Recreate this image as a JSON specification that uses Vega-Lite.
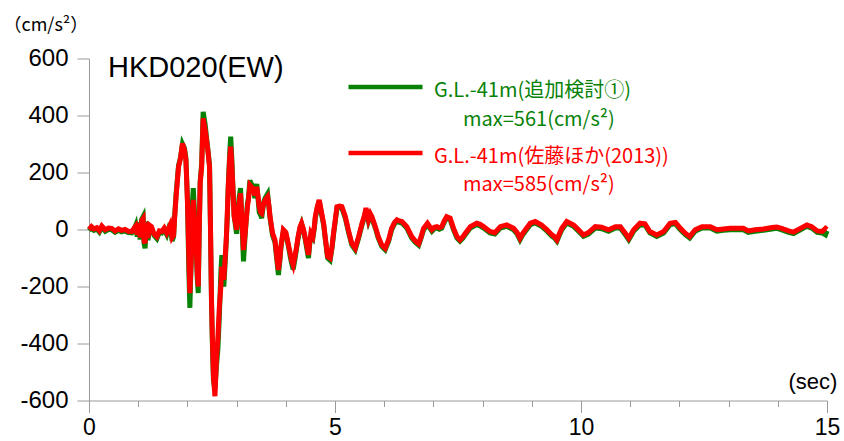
{
  "$schema": "https://vega.github.io/schema/vega-lite/v6.json",
  "width": 738,
  "height": 342,
  "autosize": {"type": "none"},
  "padding": {"left": 89, "top": 58.5, "right": 17, "bottom": 40.5},
  "background": "white",
  "config": {"view": {"stroke": null}, "font": "Liberation Sans"},
  "title": {
    "text": "HKD020(EW)",
    "anchor": "start",
    "frame": "group",
    "font": "Liberation Sans",
    "fontSize": 29,
    "fontWeight": "normal",
    "color": "#000000",
    "baseline": "alphabetic",
    "offset": 0,
    "dx": 19,
    "dy": 89
  },
  "data": {
    "values": [
      {"t": 0.00, "r": 0, "g": -4},
      {"t": 0.05, "r": 10, "g": 6},
      {"t": 0.10, "r": 2, "g": -3},
      {"t": 0.16, "r": 6, "g": 1},
      {"t": 0.21, "r": -4, "g": -9},
      {"t": 0.26, "r": 12, "g": 8},
      {"t": 0.33, "r": -1, "g": -6},
      {"t": 0.40, "r": 5, "g": 1},
      {"t": 0.46, "r": 4, "g": -1},
      {"t": 0.53, "r": -5, "g": -10},
      {"t": 0.60, "r": 2, "g": -3},
      {"t": 0.66, "r": -3, "g": -8},
      {"t": 0.73, "r": 0, "g": -5},
      {"t": 0.80, "r": -6, "g": -11},
      {"t": 0.87, "r": -7, "g": -12},
      {"t": 0.92, "r": 5, "g": 2},
      {"t": 0.95, "r": 12, "g": 15},
      {"t": 0.98, "r": -18, "g": -25},
      {"t": 1.01, "r": 22, "g": 26},
      {"t": 1.04, "r": -28, "g": -35},
      {"t": 1.07, "r": 30, "g": 35},
      {"t": 1.10, "r": 38, "g": 45},
      {"t": 1.12, "r": -40, "g": -50},
      {"t": 1.14, "r": -48, "g": -66},
      {"t": 1.17, "r": 25, "g": 28},
      {"t": 1.20, "r": -30, "g": -38},
      {"t": 1.23, "r": 15, "g": 12},
      {"t": 1.27, "r": 10, "g": 5},
      {"t": 1.32, "r": -15, "g": -20},
      {"t": 1.38, "r": -25, "g": -32},
      {"t": 1.43, "r": -5, "g": -10},
      {"t": 1.48, "r": -7, "g": -12},
      {"t": 1.53, "r": 5, "g": 0},
      {"t": 1.58, "r": -12, "g": -18},
      {"t": 1.65, "r": 16, "g": 22},
      {"t": 1.69, "r": -28, "g": -40},
      {"t": 1.72, "r": -20, "g": -25},
      {"t": 1.74, "r": 40, "g": 45},
      {"t": 1.77, "r": 115, "g": 125},
      {"t": 1.82, "r": 220, "g": 225},
      {"t": 1.86, "r": 250, "g": 252},
      {"t": 1.90, "r": 302, "g": 300},
      {"t": 1.94, "r": 280, "g": 285},
      {"t": 1.97, "r": 244, "g": 250},
      {"t": 2.00, "r": 104, "g": 110},
      {"t": 2.03, "r": -100, "g": -150},
      {"t": 2.05, "r": -223, "g": -275},
      {"t": 2.08, "r": -100, "g": -90},
      {"t": 2.10, "r": 60, "g": 90},
      {"t": 2.12, "r": 104, "g": 145},
      {"t": 2.15, "r": 20, "g": 40},
      {"t": 2.18, "r": -60, "g": -70},
      {"t": 2.20, "r": -150, "g": -170},
      {"t": 2.22, "r": -200, "g": -223},
      {"t": 2.24, "r": 0, "g": -10},
      {"t": 2.26, "r": 162, "g": 170},
      {"t": 2.29, "r": 220, "g": 230},
      {"t": 2.32, "r": 390, "g": 413},
      {"t": 2.36, "r": 350, "g": 370},
      {"t": 2.39, "r": 314, "g": 320},
      {"t": 2.42, "r": 270, "g": 275},
      {"t": 2.45, "r": 220, "g": 225},
      {"t": 2.47, "r": 0, "g": -10},
      {"t": 2.49, "r": -247, "g": -260},
      {"t": 2.51, "r": -400, "g": -420},
      {"t": 2.53, "r": -516, "g": -530},
      {"t": 2.56, "r": -585, "g": -561},
      {"t": 2.59, "r": -457, "g": -480},
      {"t": 2.62, "r": -380, "g": -420},
      {"t": 2.65, "r": -270, "g": -300},
      {"t": 2.68, "r": -200, "g": -150},
      {"t": 2.70, "r": -130, "g": -90},
      {"t": 2.72, "r": -160, "g": -150},
      {"t": 2.74, "r": -177, "g": -200},
      {"t": 2.77, "r": -90, "g": -110},
      {"t": 2.79, "r": -36, "g": -40},
      {"t": 2.81, "r": 50, "g": 40},
      {"t": 2.83, "r": 150, "g": 150},
      {"t": 2.86, "r": 250, "g": 270},
      {"t": 2.88, "r": 291, "g": 326},
      {"t": 2.90, "r": 240, "g": 260},
      {"t": 2.92, "r": 162, "g": 170},
      {"t": 2.95, "r": 45, "g": 50},
      {"t": 2.98, "r": 20, "g": 10},
      {"t": 3.00, "r": -1, "g": -15},
      {"t": 3.03, "r": 60, "g": 70},
      {"t": 3.05, "r": 92, "g": 110},
      {"t": 3.08, "r": 127, "g": 145},
      {"t": 3.11, "r": 30, "g": 20},
      {"t": 3.14, "r": -72, "g": -112},
      {"t": 3.17, "r": -20, "g": -30},
      {"t": 3.19, "r": 22, "g": 20},
      {"t": 3.22, "r": 80, "g": 90},
      {"t": 3.24, "r": 104, "g": 110},
      {"t": 3.27, "r": 156, "g": 172},
      {"t": 3.30, "r": 150, "g": 160},
      {"t": 3.34, "r": 139, "g": 150},
      {"t": 3.37, "r": 120, "g": 110},
      {"t": 3.41, "r": 150, "g": 160},
      {"t": 3.44, "r": 110, "g": 100},
      {"t": 3.46, "r": 80, "g": 60},
      {"t": 3.49, "r": 60, "g": 50},
      {"t": 3.51, "r": 57, "g": 40},
      {"t": 3.55, "r": 90, "g": 95},
      {"t": 3.58, "r": 104, "g": 110},
      {"t": 3.63, "r": 115, "g": 125},
      {"t": 3.66, "r": 80, "g": 75},
      {"t": 3.68, "r": 45, "g": 40},
      {"t": 3.73, "r": -13, "g": -20},
      {"t": 3.78, "r": -36, "g": -45},
      {"t": 3.82, "r": -100, "g": -110},
      {"t": 3.85, "r": -142, "g": -160},
      {"t": 3.88, "r": -100, "g": -110},
      {"t": 3.90, "r": -60, "g": -65},
      {"t": 3.95, "r": -1, "g": -5},
      {"t": 4.00, "r": -10, "g": -15},
      {"t": 4.02, "r": -25, "g": -30},
      {"t": 4.06, "r": -60, "g": -65},
      {"t": 4.09, "r": -83, "g": -95},
      {"t": 4.12, "r": -110, "g": -120},
      {"t": 4.15, "r": -125, "g": -140},
      {"t": 4.19, "r": -90, "g": -100},
      {"t": 4.22, "r": -60, "g": -65},
      {"t": 4.25, "r": -25, "g": -30},
      {"t": 4.29, "r": 10, "g": 5},
      {"t": 4.32, "r": 22, "g": 20},
      {"t": 4.36, "r": 0, "g": -5},
      {"t": 4.39, "r": -25, "g": -30},
      {"t": 4.43, "r": -60, "g": -70},
      {"t": 4.46, "r": -89, "g": -100},
      {"t": 4.49, "r": -40, "g": -45},
      {"t": 4.51, "r": -13, "g": -20},
      {"t": 4.55, "r": -25, "g": -30},
      {"t": 4.58, "r": 10, "g": 5},
      {"t": 4.60, "r": 45, "g": 40},
      {"t": 4.64, "r": 80, "g": 75},
      {"t": 4.68, "r": 104, "g": 100},
      {"t": 4.73, "r": 57, "g": 50},
      {"t": 4.77, "r": 20, "g": 15},
      {"t": 4.80, "r": -25, "g": -30},
      {"t": 4.85, "r": -95, "g": -100},
      {"t": 4.90, "r": -101, "g": -108},
      {"t": 4.94, "r": -60, "g": -65},
      {"t": 4.97, "r": -13, "g": -18},
      {"t": 5.01, "r": 40, "g": 35},
      {"t": 5.04, "r": 80, "g": 75},
      {"t": 5.09, "r": 82, "g": 77},
      {"t": 5.14, "r": 80, "g": 75},
      {"t": 5.18, "r": 60, "g": 55},
      {"t": 5.21, "r": 45, "g": 40},
      {"t": 5.27, "r": -1, "g": -6},
      {"t": 5.34, "r": -48, "g": -53},
      {"t": 5.41, "r": -66, "g": -71},
      {"t": 5.48, "r": -25, "g": -30},
      {"t": 5.55, "r": 22, "g": 17},
      {"t": 5.60, "r": 50, "g": 45},
      {"t": 5.63, "r": 75, "g": 70},
      {"t": 5.68, "r": 34, "g": 29},
      {"t": 5.72, "r": 55, "g": 50},
      {"t": 5.75, "r": 45, "g": 40},
      {"t": 5.82, "r": 10, "g": 5},
      {"t": 5.88, "r": -25, "g": -30},
      {"t": 5.95, "r": -54, "g": -59},
      {"t": 6.02, "r": -66, "g": -71},
      {"t": 6.09, "r": -36, "g": -41},
      {"t": 6.15, "r": 4, "g": -1},
      {"t": 6.21, "r": 25, "g": 20},
      {"t": 6.26, "r": 34, "g": 29},
      {"t": 6.31, "r": 30, "g": 25},
      {"t": 6.36, "r": 28, "g": 23},
      {"t": 6.46, "r": 10, "g": 5},
      {"t": 6.56, "r": -25, "g": -30},
      {"t": 6.63, "r": -40, "g": -45},
      {"t": 6.70, "r": -50, "g": -55},
      {"t": 6.75, "r": -25, "g": -30},
      {"t": 6.80, "r": 4, "g": -1},
      {"t": 6.88, "r": 22, "g": 17},
      {"t": 6.97, "r": -1, "g": -6},
      {"t": 7.02, "r": 8, "g": 3},
      {"t": 7.07, "r": 10, "g": 5},
      {"t": 7.12, "r": 6, "g": 1},
      {"t": 7.17, "r": 10, "g": 5},
      {"t": 7.22, "r": 30, "g": 25},
      {"t": 7.27, "r": 45, "g": 40},
      {"t": 7.34, "r": 40, "g": 35},
      {"t": 7.41, "r": 4, "g": -1},
      {"t": 7.48, "r": -25, "g": -30},
      {"t": 7.54, "r": -36, "g": -41},
      {"t": 7.60, "r": -25, "g": -30},
      {"t": 7.65, "r": -13, "g": -18},
      {"t": 7.75, "r": 10, "g": 5},
      {"t": 7.88, "r": 22, "g": 17},
      {"t": 7.95, "r": 18, "g": 13},
      {"t": 8.02, "r": 10, "g": 5},
      {"t": 8.15, "r": -7, "g": -12},
      {"t": 8.25, "r": -11, "g": -16},
      {"t": 8.36, "r": 10, "g": 5},
      {"t": 8.49, "r": 16, "g": 11},
      {"t": 8.63, "r": 4, "g": -1},
      {"t": 8.70, "r": -10, "g": -15},
      {"t": 8.76, "r": -31, "g": -36},
      {"t": 8.81, "r": -15, "g": -20},
      {"t": 8.87, "r": -1, "g": -6},
      {"t": 8.97, "r": 22, "g": 17},
      {"t": 9.07, "r": 28, "g": 23},
      {"t": 9.20, "r": 16, "g": 11},
      {"t": 9.31, "r": -1, "g": -6},
      {"t": 9.41, "r": -19, "g": -24},
      {"t": 9.46, "r": -25, "g": -30},
      {"t": 9.51, "r": -36, "g": -41},
      {"t": 9.56, "r": -15, "g": -20},
      {"t": 9.61, "r": 4, "g": -1},
      {"t": 9.71, "r": 28, "g": 23},
      {"t": 9.85, "r": 16, "g": 11},
      {"t": 9.95, "r": -1, "g": -6},
      {"t": 10.05, "r": -19, "g": -24},
      {"t": 10.15, "r": -11, "g": -16},
      {"t": 10.29, "r": 10, "g": 5},
      {"t": 10.42, "r": 8, "g": 3},
      {"t": 10.56, "r": -1, "g": -6},
      {"t": 10.70, "r": 10, "g": 5},
      {"t": 10.80, "r": 10, "g": 5},
      {"t": 10.90, "r": -13, "g": -18},
      {"t": 10.97, "r": -31, "g": -36},
      {"t": 11.07, "r": -1, "g": -6},
      {"t": 11.20, "r": 22, "g": 17},
      {"t": 11.30, "r": 20, "g": 15},
      {"t": 11.40, "r": -7, "g": -12},
      {"t": 11.54, "r": -19, "g": -24},
      {"t": 11.68, "r": -7, "g": -12},
      {"t": 11.81, "r": 22, "g": 17},
      {"t": 11.92, "r": 25, "g": 20},
      {"t": 12.02, "r": 4, "g": -1},
      {"t": 12.12, "r": -13, "g": -18},
      {"t": 12.21, "r": -25, "g": -30},
      {"t": 12.32, "r": -1, "g": -6},
      {"t": 12.46, "r": 10, "g": 5},
      {"t": 12.63, "r": 10, "g": 5},
      {"t": 12.76, "r": -1, "g": -6},
      {"t": 12.90, "r": 2, "g": -3},
      {"t": 13.03, "r": 4, "g": -1},
      {"t": 13.17, "r": 4, "g": -1},
      {"t": 13.30, "r": 4, "g": -1},
      {"t": 13.40, "r": -5, "g": -10},
      {"t": 13.54, "r": -1, "g": -6},
      {"t": 13.71, "r": 2, "g": -3},
      {"t": 13.88, "r": 7, "g": 2},
      {"t": 13.98, "r": 9, "g": 4},
      {"t": 14.08, "r": 4, "g": -1},
      {"t": 14.22, "r": -5, "g": -10},
      {"t": 14.32, "r": -9, "g": -14},
      {"t": 14.46, "r": 4, "g": -1},
      {"t": 14.59, "r": 16, "g": 11},
      {"t": 14.69, "r": 10, "g": 5},
      {"t": 14.80, "r": -5, "g": -10},
      {"t": 14.90, "r": -7, "g": -12},
      {"t": 14.97, "r": 4, "g": -19},
      {"t": 15.00, "r": 0, "g": -5}
    ]
  },
  "encoding": {
    "x": {
      "field": "t",
      "type": "quantitative",
      "scale": {"domain": [0, 15], "nice": false, "zero": false},
      "axis": {
        "values": [0, 1, 2, 3, 4, 5, 6, 7, 8, 9, 10, 11, 12, 13, 14, 15],
        "labelExpr": "datum.value % 5 === 0 ? '' + datum.value : ''",
        "tickSize": {"condition": {"test": "datum.value % 5 === 0", "value": 12}, "value": 6},
        "grid": false,
        "domainColor": "#9a9a9a",
        "tickColor": "#9a9a9a",
        "labelColor": "#000000",
        "labelFont": "Liberation Sans",
        "labelFontSize": 23,
        "labelPadding": 4,
        "labelFlush": false,
        "labelOverlap": false,
        "labelBound": false,
        "title": "(sec)",
        "titleFont": "Liberation Sans",
        "titleFontSize": 22,
        "titleFontWeight": "normal",
        "titleColor": "#000000",
        "titleAlign": "left",
        "titleBaseline": "alphabetic",
        "titleAnchor": null,
        "titleX": 699,
        "titleY": -12
      }
    }
  },
  "layer": [
    {
      "mark": {"type": "line", "strokeWidth": 5, "strokeJoin": "miter", "strokeCap": "butt"},
      "encoding": {
        "y": {
          "field": "g",
          "type": "quantitative",
          "scale": {"domain": [-600, 600], "nice": false},
          "axis": {
            "values": [-600, -500, -400, -300, -200, -100, 0, 100, 200, 300, 400, 500, 600],
            "labelExpr": "datum.value % 200 === 0 ? '' + datum.value : ''",
            "tickSize": {"condition": {"test": "datum.value % 200 === 0", "value": 12}, "value": 6},
            "grid": false,
            "domainColor": "#9a9a9a",
            "tickColor": "#9a9a9a",
            "labelColor": "#000000",
            "labelFont": "Liberation Sans",
            "labelFontSize": 24,
            "labelPadding": 9,
            "labelFlush": false,
            "labelOverlap": false,
            "labelBound": false,
            "title": "（cm/s²）",
            "titleFont": "Noto Sans CJK JP",
            "titleFontSize": 18,
            "titleFontWeight": "normal",
            "titleColor": "#000000",
            "titleAngle": 0,
            "titleAlign": "left",
            "titleBaseline": "alphabetic",
            "titleAnchor": null,
            "titleX": -86,
            "titleY": -28
          }
        },
        "color": {
          "datum": "G",
          "type": "nominal",
          "scale": {"domain": ["G", "Gm", "R", "Rm"], "range": ["#078207", "#078207", "#ff0000", "#ff0000"]},
          "legend": {
            "orient": "none",
            "legendX": 257,
            "legendY": 12,
            "title": null,
            "padding": 0,
            "symbolType": "stroke",
            "symbolSize": 5476,
            "symbolStrokeWidth": 4.5,
            "labelOffset": 9,
            "labelFont": "Noto Sans CJK JP",
            "labelFontSize": 20,
            "labelLimit": 0,
            "clipHeight": 33,
            "rowPadding": 0,
            "labelExpr": "datum.value === 'G' ? 'G.L.-41m(追加検討①)' : datum.value === 'Gm' ? 'max=561(cm/s²)' : datum.value === 'R' ? 'G.L.-41m(佐藤ほか(2013))' : 'max=585(cm/s²)'",
            "encode": {
              "symbols": {
                "update": {
                  "opacity": {"signal": "datum.value === 'Gm' || datum.value === 'Rm' ? 0 : 1"}
                }
              },
              "labels": {
                "update": {
                  "fill": {"signal": "datum.value === 'G' || datum.value === 'Gm' ? '#078207' : '#ff0000'"},
                  "dx": {"signal": "datum.value === 'Gm' || datum.value === 'Rm' ? 29 : 0"},
                  "dy": {"signal": "datum.value === 'Rm' ? -1 : datum.value === 'Gm' ? 0 : 4"}
                }
              }
            }
          }
        }
      }
    },
    {
      "mark": {"type": "line", "strokeWidth": 5, "strokeJoin": "miter", "strokeCap": "butt"},
      "encoding": {
        "y": {"field": "r", "type": "quantitative"},
        "color": {"datum": "R", "type": "nominal"}
      }
    }
  ]
}
